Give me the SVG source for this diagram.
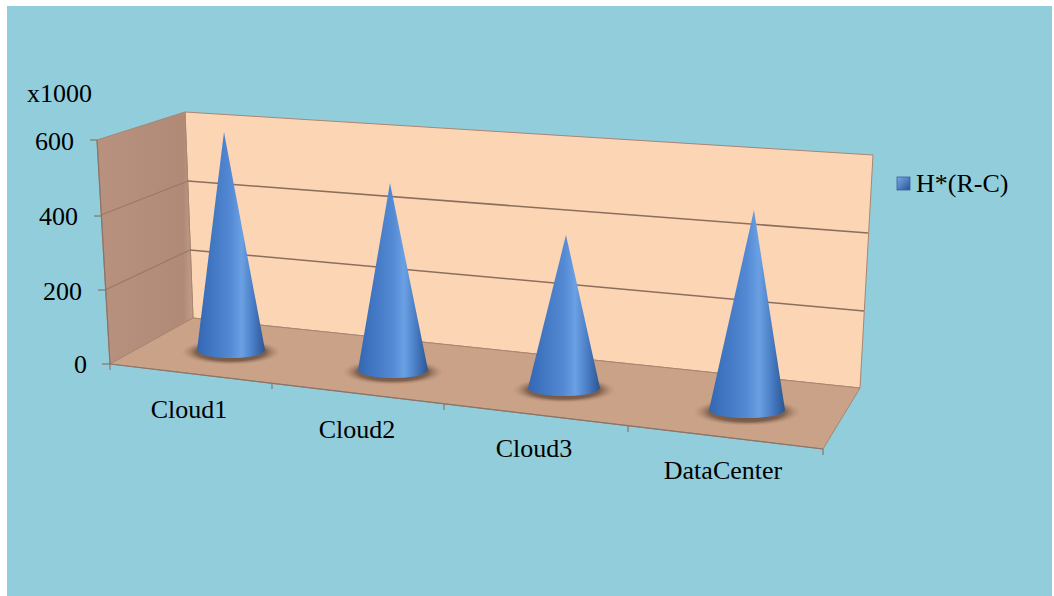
<svg xmlns="http://www.w3.org/2000/svg" width="1054" height="596" viewBox="0 0 1054 596">
  <defs>
    <style>
      .lbl { font-family: "Liberation Serif", "Times New Roman", serif; font-size: 26px; fill: #000; }
      .tick { stroke: #8a7468; stroke-width: 1.2; fill: none; }
      .grid { stroke: #8c6e5c; stroke-width: 1.6; fill: none; }
      .sgrid { stroke: #9a7866; stroke-width: 1.2; fill: none; }
      .edge { stroke: #a88672; stroke-width: 1; }
      .cone { fill: url(#coneFill); }
      .shadow { fill: url(#shadowFill); }
    </style>
    <linearGradient id="coneFill" x1="0" y1="0" x2="1" y2="0">
      <stop offset="0" stop-color="#3566b0"/>
      <stop offset="0.15" stop-color="#3d72be"/>
      <stop offset="0.5" stop-color="#548ad4"/>
      <stop offset="0.66" stop-color="#6aa0e3"/>
      <stop offset="0.82" stop-color="#4a7ec6"/>
      <stop offset="1" stop-color="#2c5590"/>
    </linearGradient>
    <radialGradient id="shadowFill" cx="0.5" cy="0.5" r="0.5">
      <stop offset="0" stop-color="#573b2b" stop-opacity="0.95"/>
      <stop offset="0.7" stop-color="#6f5240" stop-opacity="0.8"/>
      <stop offset="1" stop-color="#b48c74" stop-opacity="0"/>
    </radialGradient>
    <linearGradient id="sideFill" x1="0" y1="0" x2="1" y2="0">
      <stop offset="0" stop-color="#b8927e"/>
      <stop offset="0.9" stop-color="#b08a76"/>
      <stop offset="1" stop-color="#c29e88"/>
    </linearGradient>
    <linearGradient id="legendFill" x1="0" y1="0" x2="1" y2="1">
      <stop offset="0" stop-color="#7ea8de"/>
      <stop offset="0.5" stop-color="#4f7fc4"/>
      <stop offset="1" stop-color="#2d5392"/>
    </linearGradient>
  </defs>

  <!-- chart area -->
  <rect id="background" x="7" y="6" width="1045" height="590" fill="#92cddc"/>

  <!-- walls and floor -->
  <g id="walls">
    <polygon id="back-wall" points="185,112 873,155 860,388 193,318" fill="#fcd5b4" class="edge"/>
    <polygon id="side-wall" points="97,140 185,112 193,318 110,364" fill="url(#sideFill)" class="edge"/>
    <polygon id="floor" points="110,364 193,318 860,388 823,449" fill="#c9a288" class="edge"/>
  </g>

  <!-- gridlines -->
  <g id="gridlines">
    <line class="grid" x1="188" y1="181" x2="868" y2="233"/>
    <line class="grid" x1="190" y1="250" x2="864" y2="311"/>
    <line class="sgrid" x1="101" y1="215" x2="188" y2="181"/>
    <line class="sgrid" x1="105" y1="290" x2="190" y2="250"/>
  </g>

  <!-- value axis -->
  <g id="value-axis">
    <line class="tick" x1="97" y1="140" x2="110" y2="364"/>
    <line class="tick" x1="90" y1="140" x2="97" y2="140"/>
    <line class="tick" x1="94" y1="216" x2="101" y2="216"/>
    <line class="tick" x1="98" y1="290" x2="105" y2="290"/>
    <line class="tick" x1="102" y1="364" x2="110" y2="364"/>
    <text class="lbl" x="27" y="102">x1000</text>
    <text class="lbl" x="74" y="150" text-anchor="end">600</text>
    <text class="lbl" x="78" y="225" text-anchor="end">400</text>
    <text class="lbl" x="82" y="300" text-anchor="end">200</text>
    <text class="lbl" x="87" y="373" text-anchor="end">0</text>
  </g>

  <!-- category axis -->
  <g id="category-axis">
    <line class="tick" x1="110" y1="364" x2="823" y2="449"/>
    <line class="tick" x1="110" y1="364" x2="110" y2="370"/>
    <line class="tick" x1="272" y1="383" x2="272" y2="389"/>
    <line class="tick" x1="444" y1="404" x2="444" y2="410"/>
    <line class="tick" x1="628" y1="426" x2="628" y2="432"/>
    <line class="tick" x1="823" y1="449" x2="823" y2="455"/>
    <text class="lbl" x="189" y="418" text-anchor="middle">Cloud1</text>
    <text class="lbl" x="357" y="438" text-anchor="middle">Cloud2</text>
    <text class="lbl" x="534" y="457" text-anchor="middle">Cloud3</text>
    <text class="lbl" x="723" y="479" text-anchor="middle">DataCenter</text>
  </g>

  <!-- data series: cones -->
  <g id="series">
    <g id="cone-cloud1">
      <ellipse class="shadow" cx="231" cy="352" rx="50" ry="13"/>
      <path class="cone" d="M224,132 L197,350 A34,8 0 0 0 265,350 Z"/>
    </g>
    <g id="cone-cloud2">
      <ellipse class="shadow" cx="393" cy="372" rx="51" ry="13"/>
      <path class="cone" d="M390,183 L358,370 A35,8 0 0 0 428,370 Z"/>
    </g>
    <g id="cone-cloud3">
      <ellipse class="shadow" cx="564" cy="390" rx="52" ry="13"/>
      <path class="cone" d="M566,235 L528,388 A36,8 0 0 0 600,388 Z"/>
    </g>
    <g id="cone-datacenter">
      <ellipse class="shadow" cx="747" cy="412" rx="54" ry="14"/>
      <path class="cone" d="M754,210 L709,410 A38,8 0 0 0 785,410 Z"/>
    </g>
  </g>

  <!-- legend -->
  <g id="legend">
    <rect x="897" y="177" width="13" height="13" fill="url(#legendFill)" stroke="#3a5f96" stroke-width="0.8"/>
    <text class="lbl" x="916" y="192">H*(R-C)</text>
  </g>
</svg>
